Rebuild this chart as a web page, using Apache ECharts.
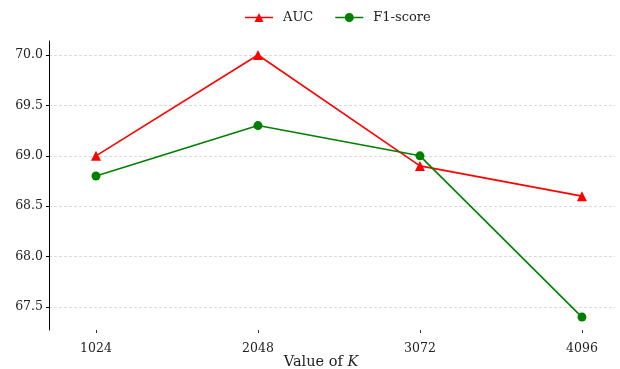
<!DOCTYPE html>
<html>
<head>
<meta charset="utf-8">
<script src="https://cdn.jsdelivr.net/npm/echarts@6/dist/echarts.min.js"></script>
<style>
  html, body { margin: 0; padding: 0; background: #fff; }
  #chart { width: 620px; height: 369px; }
</style>
</head>
<body>
<div id="chart"></div>
<script>
// Codebook size K and the resulting scores
const categories = ['1024', '2048', '3072', '4096'];
const aucValues = [69.0, 70.0, 68.9, 68.6];
const f1Values = [68.8, 69.3, 69.0, 67.4];
const yTicks = [67.5, 68.0, 68.5, 69.0, 69.5, 70.0];

const FONT = 'DejaVu Serif';
const idx = categories.map((_, i) => i);
const toPoints = vals => vals.map((v, i) => [i, v]);

// Legend glyphs: a short line with the series marker on top
const ICON_TRIANGLE = 'path://M0,4.3 L28,4.3 L28,5.7 L0,5.7 Z M9.5,9.5 L14,0.5 L18.5,9.5 Z';
const ICON_CIRCLE = 'path://M0,4.3 L28,4.3 L28,5.7 L0,5.7 Z M18.5,5 A4.5,4.5 0 1,1 9.5,5 A4.5,4.5 0 1,1 18.5,5 Z';

const chart = echarts.init(document.getElementById('chart'), null, { renderer: 'canvas' });
chart.setOption({
  animation: false,
  backgroundColor: '#ffffff',
  textStyle: { fontFamily: FONT },
  legend: {
    top: 6,
    left: 240,
    itemWidth: 28,
    itemHeight: 10,
    itemGap: 22,
    textStyle: { fontFamily: FONT, fontSize: 13, color: '#222', padding: [0, 0, 0, 5] },
    data: [
      { name: 'AUC', icon: ICON_TRIANGLE },
      { name: 'F1-score', icon: ICON_CIRCLE }
    ]
  },
  grid: { left: 49, right: 5, top: 41, bottom: 39, containLabel: false, outerBoundsMode: 'none' },
  xAxis: {
    type: 'value',
    min: -0.29,
    max: 3.204,
    axisLine: { show: false },
    axisTick: { show: true, customValues: idx, length: 3, lineStyle: { color: '#333' } },
    axisLabel: {
      customValues: idx,
      formatter: v => categories[Math.round(v)],
      fontFamily: FONT, fontSize: 12.5, color: '#222', margin: 12
    },
    splitLine: { show: false },
    name: '{n|Value of }{k|K}',
    nameLocation: 'middle',
    nameGap: 25,
    nameMoveOverlap: false,
    nameTextStyle: {
      padding: [0, 22, 0, 0],
      rich: {
        n: { fontFamily: FONT, fontSize: 14.5, color: '#222' },
        k: { fontFamily: FONT, fontSize: 14.5, fontStyle: 'italic', color: '#222' }
      }
    }
  },
  yAxis: {
    type: 'value',
    min: 67.272,
    max: 70.139,
    axisLine: { show: true, onZero: false, lineStyle: { color: '#000', width: 1 } },
    axisTick: { show: true, customValues: yTicks, length: 3, lineStyle: { color: '#000' } },
    axisLabel: {
      customValues: yTicks,
      formatter: v => v.toFixed(1),
      fontFamily: FONT, fontSize: 12.5, color: '#222', margin: 6
    },
    splitLine: { show: true, lineStyle: { color: '#d0d0d0', type: [3, 2], width: 0.8 } }
  },
  series: [
    {
      name: 'AUC',
      type: 'line',
      data: toPoints(aucValues),
      symbol: 'triangle',
      symbolSize: 10,
      color: '#ff0000',
      lineStyle: { width: 1.6, color: '#ff0000' },
      itemStyle: { color: '#ff0000' },
      clip: false,
      z: 3
    },
    {
      name: 'F1-score',
      type: 'line',
      data: toPoints(f1Values),
      symbol: 'circle',
      symbolSize: 9,
      color: '#008000',
      lineStyle: { width: 1.6, color: '#008000' },
      itemStyle: { color: '#008000' },
      clip: false,
      z: 4
    }
  ]
});
</script>
</body>
</html>
